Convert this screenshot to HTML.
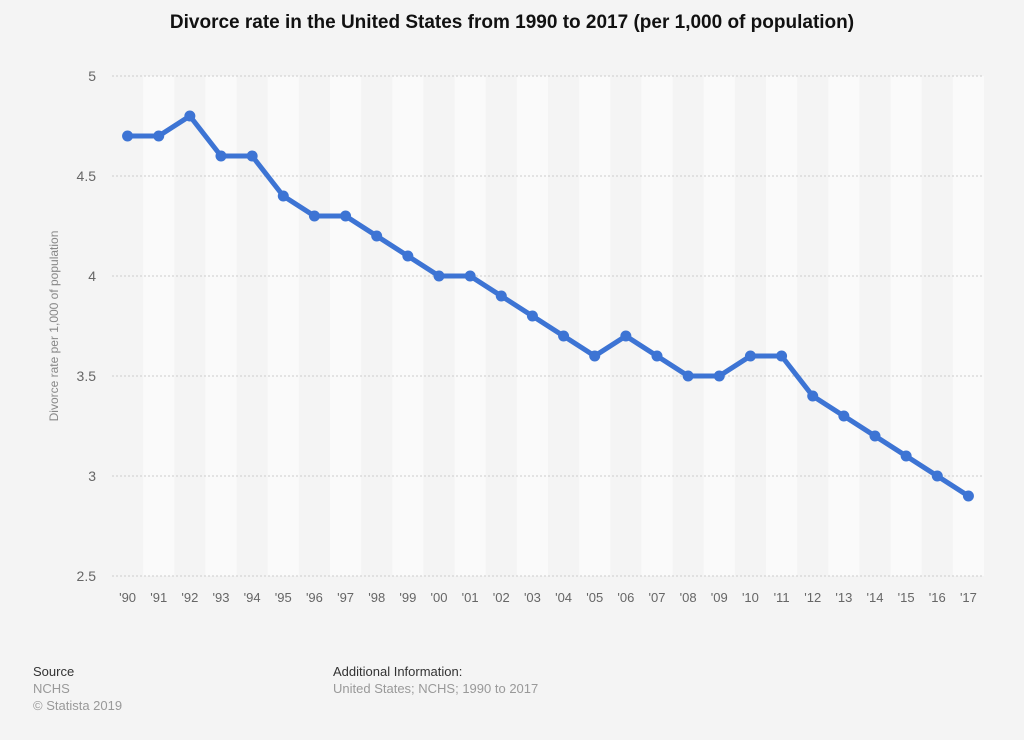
<!DOCTYPE html>
<html><head><meta charset="utf-8">
<style>
body{margin:0;width:1024px;height:740px;background:#f4f4f4;font-family:"Liberation Sans",Arial,sans-serif;overflow:hidden;position:relative}
.t{position:absolute;left:0;width:1024px;top:12px;text-align:center;font-weight:bold;font-size:19px;color:#111}
.f{position:absolute;font-size:13px;color:#999;line-height:17px}
.f b{font-weight:normal;color:#333;font-size:13px}
</style></head><body>
<div class="t">Divorce rate in the United States from 1990 to 2017 (per 1,000 of population)</div>
<svg id="c" width="1024" height="640" style="position:absolute;left:0;top:0"></svg>
<div class="f" style="left:33px;top:663px"><b>Source</b><br>NCHS<br>© Statista 2019</div>
<div class="f" style="left:333px;top:663px"><b>Additional Information:</b><br>United States; NCHS; 1990 to 2017</div>
<script>
const categories=["'90","'91","'92","'93","'94","'95","'96","'97","'98","'99","'00","'01","'02","'03","'04","'05","'06","'07","'08","'09","'10","'11","'12","'13","'14","'15","'16","'17"];
const values=[4.7,4.7,4.8,4.6,4.6,4.4,4.3,4.3,4.2,4.1,4.0,4.0,3.9,3.8,3.7,3.6,3.7,3.6,3.5,3.5,3.6,3.6,3.4,3.3,3.2,3.1,3.0,2.9];
const yTicks=[2.5,3,3.5,4,4.5,5];
const yTickLabels=["2.5","3","3.5","4","4.5","5"];
const NS="http://www.w3.org/2000/svg",svg=document.getElementById('c');
const L=112,R=984,T=76,B=576,n=categories.length,bw=(R-L)/n;
const x=i=>L+bw*(i+0.5), y=v=>B-(v-2.5)/2.5*(B-T);
function mk(t,a){const e=document.createElementNS(NS,t);for(const k in a)e.setAttribute(k,a[k]);svg.appendChild(e);return e;}
categories.forEach((c,i)=>{
 if(i%2==1){const r=mk('rect',{x:L+bw*i,y:T,width:bw,height:B-T,fill:'#fafafa'});
 
 }
 const t=mk('text',{x:x(i),y:B+26,'text-anchor':'middle','font-size':13,fill:'#666'});t.textContent=c;
 
 
});
yTicks.forEach((v,i)=>{
 const g=mk('line',{x1:L,x2:R,y1:y(v),y2:y(v),stroke:'#ccc','stroke-dasharray':'2,2'});
 
 
 const t=mk('text',{x:96,y:y(v)+5,'text-anchor':'end','font-size':14,fill:'#666'});t.textContent=yTickLabels[i];
 
 
});
const yt=mk('text',{transform:'translate(58,326) rotate(-90)','text-anchor':'middle','font-size':12,fill:'#888'});yt.textContent='Divorce rate per 1,000 of population';


const ln=mk('polyline',{points:values.map((v,i)=>x(i)+','+y(v)).join(' '),fill:'none',stroke:'#3d74d4','stroke-width':5,'stroke-linejoin':'round'});


values.forEach((v,i)=>{const p=mk('circle',{cx:x(i),cy:y(v),r:5.5,fill:'#3d74d4'});
 
 });
</script>
</body></html>
